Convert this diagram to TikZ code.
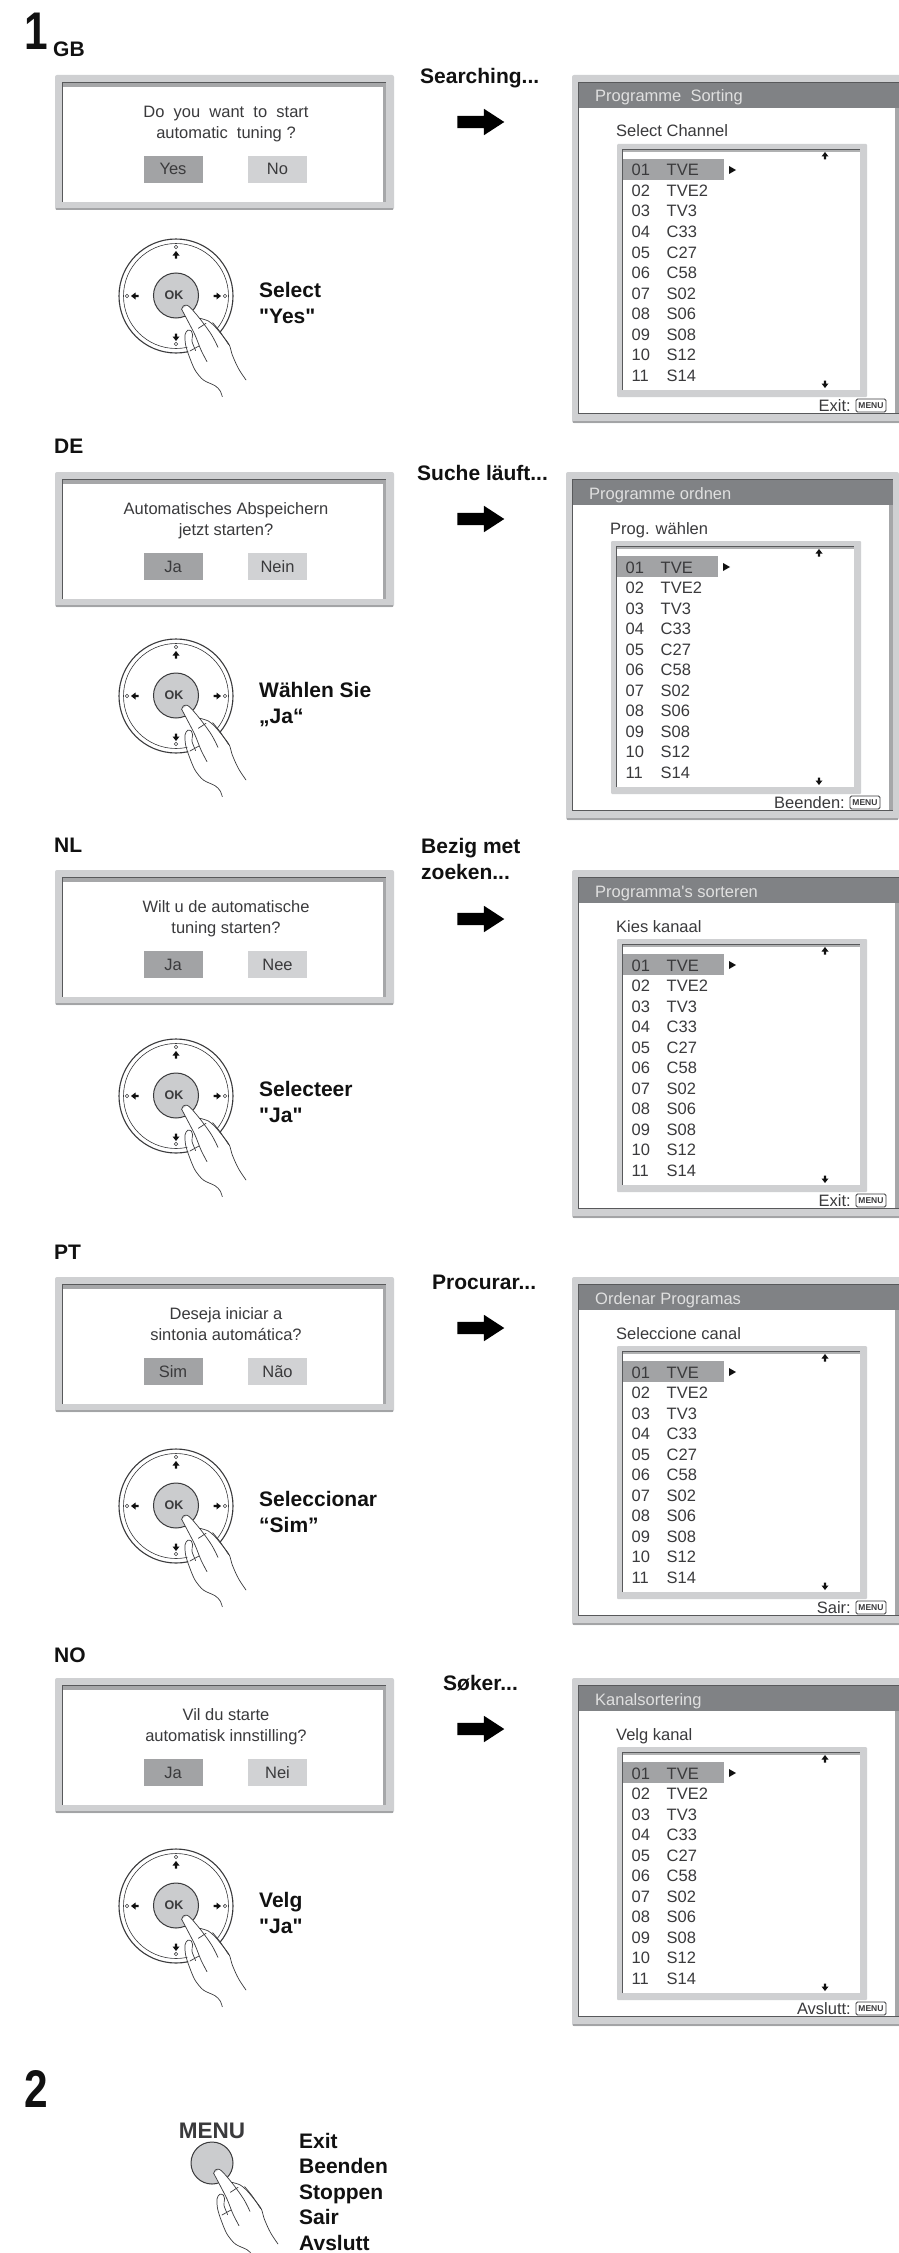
\documentclass[tikz,border=0pt]{standalone}
\usepackage{xcolor}
\usepackage{fontspec}
\setmainfont{Liberation Sans}[Ligatures=TeXOff]
\usetikzlibrary{shapes.arrows}
\definecolor{Ink}{HTML}{3A3A3C}
\definecolor{Heavy}{HTML}{111111}
\definecolor{Frame}{HTML}{CFD0D2}
\definecolor{FrameEdge}{HTML}{A3A4A6}
\definecolor{Strip}{HTML}{A6A7A9}
\definecolor{Liner}{HTML}{58595B}
\definecolor{TitleBar}{HTML}{808285}
\definecolor{Picked}{HTML}{A2A3A5}
\definecolor{Idle}{HTML}{D1D2D4}
\definecolor{Wheel}{HTML}{CBCCCE}

\newcommand\dialogpanel[5]{%
  \begin{scope}[shift={(55,#1)}, name prefix=#2-]
    \fill[Frame, rounded corners=2pt] (0,0) rectangle (339,135);
    \fill[FrameEdge] (1,133) rectangle (338,135);
    \fill[white] (7,7) rectangle (328,127);
    \fill[Strip] (7,7) rectangle (331,12);
    \fill[Strip] (328,7) rectangle (331,127);
    \draw[Liner, thick] (7,127) -- (7,7) -- (331,7);
    \node[msgtext] (msg) at (171,63.5) {#3};
    \node[btn, fill=Picked] (yes) at (118,94.5) {};
    \node[btn, fill=Idle] (no) at (222.5,94.5) {};
    \node[msgline] (yeslabel) at (118,100) {#4};
    \node[msgline] (nolabel) at (222.5,100) {#5};
  \end{scope}}

\newcommand\screenpanel[6]{%
  \begin{scope}[shift={(#1,#2)}, name prefix=#3-]
    \fill[Frame, rounded corners=2pt] (0,0) rectangle (333,348);
    \fill[FrameEdge] (1,346) rectangle (332,348);
    \fill[white] (6,7) rectangle (323,338);
    \fill[Strip] (323,7) rectangle (327,338);
    \fill[TitleBar] (6,7) rectangle (327,33);
    \draw[Liner, thick] (6,338) -- (6,7) -- (327,7);
    \draw[Liner] (6,338) -- (327,338);
    \node[msgline, anchor=base west, text=white!88!black] (title) at (23,27) {#4};
    \node[msgline, anchor=base west] (choose) at (44,62) {#5};
    \fill[Frame, rounded corners=1pt] (45,69) rectangle (295,322);
    \fill[white] (50,74) rectangle (288,315);
    \fill[Frame!85!black] (50,74) rectangle (288,77);
    \draw[Liner, line width=.7pt] (50,315) -- (50,74) -- (288,74);
    \fill[Picked] (50.5,84) rectangle (152,105);
    \fill[Heavy] (157,91) -- (164,95) -- (157,99) -- cycle;
    \pic at (253,81) {keyarrow};
    \pic[rotate=180] at (253,309) {keyarrow};
    \foreach \num/\chan [count=\i from 0] in {01/TVE,02/TVE2,03/TV3,04/C33,05/C27,06/C58,07/S02,08/S06,09/S08,10/S12,11/S14} {
      \node[msgline, anchor=base west] (num\num) at (59.5,101+20.5*\i) {\num};
      \node[msgline, anchor=base west] (chan\num) at (94.5,101+20.5*\i) {\chan};
    }
    \node[msgline, anchor=base east] (leave) at (279,336.5) {#6};
    \node[menutag] (menutag) at (299,330.5) {MENU};
  \end{scope}}

\newcommand\pressinghand{%
  \begin{scope}[shift={(-76,-76)}, scale=0.3333]
    \fill[white] (245,268) -- (262,256) -- (276,268) -- (300,295) -- (345,320) -- (388,375) -- (415,445) -- (438,480) -- (367,530) -- (310,480) -- (268,410) -- (255,345) -- (262,331) -- (278,345) -- (285,345) -- (262,300) -- cycle;
    \draw[handline] plot[smooth] coordinates {(245,268) (262,300) (285,345) (303,390) (321,425)};
    \draw[handline] plot[smooth] coordinates {(245,268) (250,258) (262,256) (276,268) (305,303) (335,345) (354,382)};
    \draw[handline] plot[smooth] coordinates {(300,295) (325,303) (345,320) (370,350) (388,375) (397,405) (415,445) (438,480)};
    \draw[handline] plot[smooth] coordinates {(338,308) (360,335) (386,374)};
    \draw[handline] plot[smooth] coordinates {(278,346) (274,333) (263,331) (255,345) (257,375) (268,410) (285,450) (310,480) (345,497) (360,512) (367,530)};
    \draw[handline] plot[smooth] coordinates {(278,346) (276,364) (287,392)};
    \draw[handline] (295,325) -- (318,310);
    \draw[handline] (270,393) -- (297,378);
  \end{scope}}

\newcommand\dialwheel[2]{%
  \begin{scope}[shift={(176,#1)}, name prefix=#2-]
    \draw[wheelline, line width=1.1pt] (0,0) circle (57);
    \draw[wheelline] (0,0) circle (52.5);
    \node[okbutton] (ok) at (0,-0.5) {};
    \node[font=\bfseries\fontsize{12.5}{14}\selectfont, text=Ink, inner sep=0pt] (oklabel) at (-2,-1) {OK};
    \pic at (0,-41) {keyarrow};
    \pic[rotate=90] at (-41,0) {keyarrow};
    \pic[rotate=-90] at (41,0) {keyarrow};
    \pic[rotate=180] at (0,41) {keyarrow};
    \foreach \dx/\dy in {0/-49,-49/0,49/0,0/48} {
      \draw[wheelline, fill=white] (\dx,\dy) circle (1.7);
    }
    \pressinghand
  \end{scope}}

\begin{document}
\begin{tikzpicture}[
  x=1pt, y=-1pt,
  msgline/.style={inner sep=0pt, anchor=base, text=Ink, font=\fontsize{16.5}{21}\selectfont},
  msgtext/.style={msgline, align=center, anchor=base},
  btn/.style={minimum width=59pt, minimum height=27pt, inner sep=0pt},
  menutag/.style={draw=Ink, rounded corners=1.5pt, line width=.8pt, minimum width=30pt, minimum height=13pt, inner sep=0pt, text=Ink, font=\bfseries\fontsize{8.5}{10}\selectfont},
  bigdigit/.style={inner sep=0pt, anchor=base west, text=Heavy, xscale=.8, font=\bfseries\fontsize{53}{53}\selectfont},
  langtag/.style={inner sep=0pt, anchor=base west, text=Heavy, font=\bfseries\fontsize{21}{21}\selectfont},
  boldtext/.style={inner sep=0pt, anchor=base west, align=left, text=Heavy, font=\bfseries\fontsize{21}{25.5}\selectfont},
  nextarrow/.style={single arrow, fill=black, inner sep=6pt, minimum height=47pt, single arrow head extend=7pt, single arrow tip angle=66, single arrow head indent=0pt},
  wheelline/.style={draw=Ink, line width=.6pt},
  okbutton/.style={circle, draw=Ink, line width=1pt, fill=Wheel, minimum size=45pt, inner sep=0pt},
  handline/.style={draw=Ink, line width=.7pt, line cap=round},
  keyarrow/.pic={\fill[Heavy] (-3.5,0.5) -- (0,-4) -- (3.5,0.5) -- (1.2,0.5) -- (1.2,3.5) -- (-1.2,3.5) -- (-1.2,0.5) -- cycle;}
]
  \useasboundingbox (0,0) rectangle (899,2253);
  \clip (0,0) rectangle (899,2253);
  \fill[white] (0,0) rectangle (899,2253);

  \node[bigdigit] (stepone) at (24,50) {1};
  \node[langtag] (gb) at (53,57) {GB};
  \dialogpanel{75}{gb}{Do~~you~~want~~to~~start\\automatic~~tuning ?}{Yes}{No}
  \dialwheel{296}{gb}
  \node[boldtext] (gbselect) at (259,323) {Select\\"Yes"};
  \node[boldtext] (gbsearch) at (420,84) {Searching...};
  \node[nextarrow] (gbarrow) at (476,122) {};
  \screenpanel{572}{75}{gbs}{Programme~~Sorting}{Select Channel}{Exit:}

  \node[langtag] (de) at (54,453) {DE};
  \dialogpanel{472}{de}{Automatisches Abspeichern\\jetzt starten?}{Ja}{Nein}
  \dialwheel{696}{de}
  \node[boldtext] (deselect) at (259,723) {Wählen Sie\\„Ja“};
  \node[boldtext] (desearch) at (417,480) {Suche läuft...};
  \node[nextarrow] (dearrow) at (476,519) {};
  \screenpanel{566}{472}{des}{Programme ordnen}{Prog. wählen}{Beenden:}

  \node[langtag] (nl) at (54,852) {NL};
  \dialogpanel{870}{nl}{Wilt u de automatische\\tuning starten?}{Ja}{Nee}
  \dialwheel{1096}{nl}
  \node[boldtext] (nlselect) at (259,1122) {Selecteer\\"Ja"};
  \node[boldtext] (nlsearch) at (421,879) {Bezig met\\zoeken...};
  \node[nextarrow] (nlarrow) at (476,919) {};
  \screenpanel{572}{870}{nls}{Programma's sorteren}{Kies kanaal}{Exit:}

  \node[langtag] (pt) at (54,1259) {PT};
  \dialogpanel{1277}{pt}{Deseja iniciar a\\sintonia automática?}{Sim}{Não}
  \dialwheel{1506}{pt}
  \node[boldtext] (ptselect) at (259,1532) {Seleccionar\\“Sim”};
  \node[boldtext] (ptsearch) at (432,1289) {Procurar...};
  \node[nextarrow] (ptarrow) at (476,1328) {};
  \screenpanel{572}{1277}{pts}{Ordenar Programas}{Seleccione canal}{Sair:}

  \node[langtag] (no) at (54,1662) {NO};
  \dialogpanel{1678}{no}{Vil du starte\\automatisk innstilling?}{Ja}{Nei}
  \dialwheel{1906}{no}
  \node[boldtext] (noselect) at (259,1933) {Velg\\"Ja"};
  \node[boldtext] (nosearch) at (443,1690) {Søker...};
  \node[nextarrow] (noarrow) at (476,1729) {};
  \screenpanel{572}{1678}{nos}{Kanalsortering}{Velg kanal}{Avslutt:}

  \node[bigdigit] (steptwo) at (24,2107) {2};
  \node[inner sep=0pt, anchor=base, text=Ink, font=\bfseries\fontsize{22.5}{23}\selectfont] (menulabel) at (212,2138) {MENU};
  \node[okbutton, minimum size=42pt] (menukey) at (212,2163) {};
  \begin{scope}[shift={(208,2160)}]
    \pressinghand
  \end{scope}
  \node[boldtext] (leavelist) at (299,2250) {Exit\\Beenden\\Stoppen\\Sair\\Avslutt};
\end{tikzpicture}
\end{document}
